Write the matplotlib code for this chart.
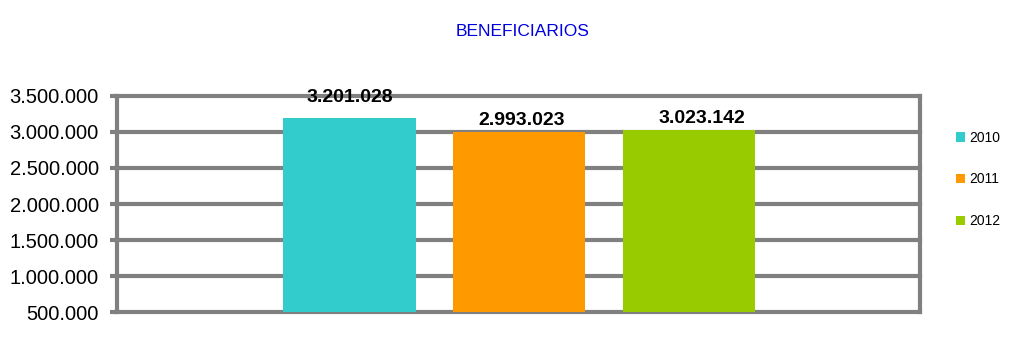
import matplotlib.pyplot as plt
import numpy as np

years = ["2010", "2011", "2012"]
values = [3201028, 2993023, 3023142]
colors = ["#33CCCC", "#FF9900", "#99CC00"]
yticks = [500000, 1000000, 1500000, 2000000, 2500000, 3000000, 3500000]


def fmt(v):
    return "{:,}".format(v).replace(",", ".")


plt.rcParams['font.family'] = ['Liberation Sans', 'DejaVu Sans']

fig = plt.figure(figsize=(10.13, 3.55), dpi=100)
ax = fig.add_axes([0.1155, 0.1211, 0.7925, 0.6085])

grid_c = "#808080"
x = np.arange(len(years))
bars = ax.bar(x, values, width=0.78, color=colors, zorder=3, label=years)

# value labels above bars
offsets = [12, 3, 3]
dx = [0, 2, 13]
for b, v, off, d in zip(bars, values, offsets, dx):
    ax.annotate(fmt(v), (b.get_x() + b.get_width() / 2, v),
                xytext=(d, off), textcoords="offset pixels",
                ha="center", va="bottom", fontsize=14, fontweight="bold")

ax.set_xlim(-1.37, 3.36)
ax.set_ylim(500000, 3500000)
ax.set_yticks(yticks)
ax.set_yticklabels([fmt(t) for t in yticks], fontsize=14.5)
ax.set_xticks([])

for t in yticks:
    ax.axhline(t, color=grid_c, lw=3, zorder=1, clip_on=False)

for s in ["top", "bottom"]:
    ax.spines[s].set_visible(False)
for s in ["left", "right"]:
    ax.spines[s].set_color(grid_c)
    ax.spines[s].set_linewidth(3)
ax.tick_params(axis="y", length=5, width=3, color=grid_c, pad=8)

fig.text(0.516, 0.912, "BENEFICIARIOS", color="#0000DD", fontsize=12.5,
         ha="center", va="center")

fig.legend(handles=list(bars), labels=years, loc="upper left",
           bbox_to_anchor=(0.931, 0.667), frameon=False, fontsize=10,
           handlelength=0.7, handleheight=0.7, handletextpad=0.3,
           labelspacing=2.0)

fig.savefig("out.png", dpi=100)
